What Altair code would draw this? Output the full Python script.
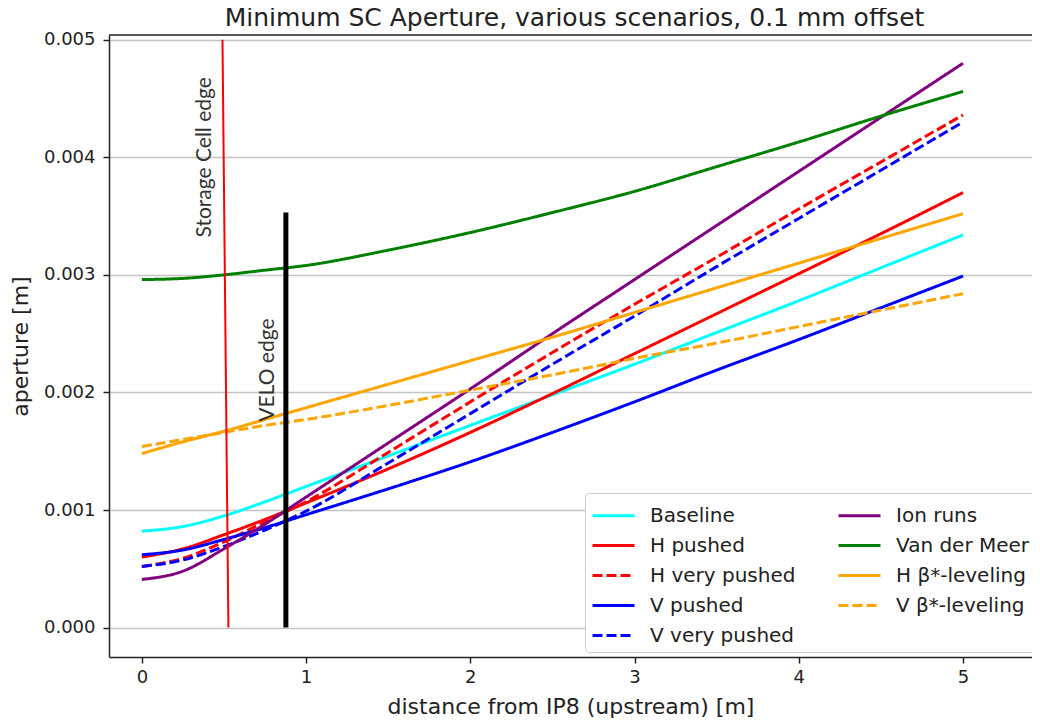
import altair as alt
import pandas as pd

# ---------------- data (aperture values in mm, converted to m below) ----------------
X = [0, 0.25, 0.5, 0.75, 1, 1.5, 2, 2.5, 3, 3.5, 4, 4.5, 5]

baseline      = [0.82, 0.86, 0.95, 1.07, 1.20, 1.46, 1.72, 1.98, 2.24, 2.51, 2.78, 3.06, 3.34]
h_pushed      = [0.60, 0.67, 0.79, 0.92, 1.06, 1.35, 1.66, 1.99, 2.33, 2.67, 3.01, 3.35, 3.70]
h_very_pushed = [0.52, 0.59, 0.73, 0.90, 1.07, 1.49, 1.92, 2.34, 2.75, 3.15, 3.56, 3.96, 4.36]
v_pushed      = [0.62, 0.66, 0.75, 0.85, 0.96, 1.18, 1.41, 1.66, 1.92, 2.19, 2.45, 2.72, 2.99]
v_very_pushed = [0.52, 0.575, 0.69, 0.83, 0.99, 1.40, 1.82, 2.24, 2.65, 3.07, 3.48, 3.89, 4.30]
ion_runs      = [0.41, 0.48, 0.67, 0.88, 1.11, 1.57, 2.03, 2.50, 2.96, 3.42, 3.88, 4.34, 4.80]
van_der_meer  = [2.96, 2.97, 3.00, 3.04, 3.08, 3.21, 3.36, 3.53, 3.71, 3.92, 4.13, 4.35, 4.56]
h_beta_lev    = [1.48, 1.58, 1.67, 1.77, 1.87, 2.07, 2.27, 2.47, 2.68, 2.89, 3.10, 3.31, 3.52]
v_beta_lev    = [1.54, 1.60, 1.66, 1.72, 1.77, 1.89, 2.02, 2.15, 2.29, 2.42, 2.56, 2.70, 2.84]

series_names = ["Baseline", "H pushed", "H very pushed", "V pushed", "V very pushed",
                "Ion runs", "Van der Meer", "H β*-leveling", "V β*-leveling"]
series_values = [baseline, h_pushed, h_very_pushed, v_pushed, v_very_pushed,
                 ion_runs, van_der_meer, h_beta_lev, v_beta_lev]
series_colors = ["#00ffff", "#ff0000", "#ff0000", "#0000ff", "#0000ff",
                 "#800080", "#008000", "#ffa500", "#ffa500"]
series_dashed = [False, False, True, False, True, False, False, False, True]

# edges (vertical markers)
sc_x = [0.491, 0.527]
sc_y = [0.005, 0.0]
velo_x = [0.877, 0.877]
velo_y = [0.00353, 0.0]

annot_text = ["Storage Cell edge", "VELO edge"]
annot_x = [0.386, 0.77]
annot_y = [0.0040, 0.00219]

x_ticks = [0, 1, 2, 3, 4, 5]
y_ticks = [0.0, 0.001, 0.002, 0.003, 0.004, 0.005]

# ---------------- build tables ----------------
rows = []
for name, vals in zip(series_names, series_values):
    for xv, yv in zip(X, vals):
        rows.append({"x": xv, "y": yv * 1e-3, "series": name})
df = pd.DataFrame(rows)

color_range = series_colors
dash_range = [[10, 4] if d else [1, 0] for d in series_dashed]

FONT = "DejaVu Sans"
W, H = 923, 622

x_enc = alt.X("x:Q", scale=alt.Scale(domain=[-0.2, 5.42], nice=False, zero=False),
              axis=alt.Axis(values=x_ticks, format="d", grid=False,
                            title="distance from IP8 (upstream) [m]"))
y_enc = alt.Y("y:Q", scale=alt.Scale(domain=[-0.00025, 0.00504], nice=False, zero=False),
              axis=alt.Axis(values=y_ticks, format=".3f", grid=True, title="aperture [m]"))

legend = alt.Legend(
    title=None, orient="none", legendX=476, legendY=458, columns=2,
    padding=6, fillColor="white", strokeColor="#cccccc", cornerRadius=4,
    labelFont=FONT, labelFontSize=20, labelColor="#222222", labelLimit=400,
    symbolType="M-1,0H1.8", symbolSize=900, symbolStrokeWidth=3,
    labelOffset=26, rowPadding=3, columnPadding=36,
)

base = alt.Chart(df)
layers = []
for name in series_names:
    layers.append(
        base.transform_filter(alt.datum.series == name)
        .mark_line(strokeWidth=3, interpolate="monotone", clip=True)
        .encode(
            x=x_enc, y=y_enc,
            color=alt.Color("series:N", scale=alt.Scale(domain=series_names, range=color_range),
                            legend=legend),
            strokeDash=alt.StrokeDash("series:N", scale=alt.Scale(domain=series_names, range=dash_range),
                                      legend=legend),
        )
    )

sc_line = alt.Chart(pd.DataFrame({"x": sc_x, "y": sc_y})).mark_line(
    color="#ff0000", strokeWidth=2).encode(x=x_enc, y=y_enc)
velo_line = alt.Chart(pd.DataFrame({"x": velo_x, "y": velo_y})).mark_line(
    color="#000000", strokeWidth=5, strokeCap="butt").encode(x=x_enc, y=y_enc)

annots = alt.Chart(pd.DataFrame({"x": annot_x, "y": annot_y, "t": annot_text})).mark_text(
    angle=270, font="Lato", fontSize=21, color="#333333", align="center", baseline="middle"
).encode(x=x_enc, y=y_enc, text="t:N")

top_spine = alt.Chart(pd.DataFrame({"a": [0]})).mark_rule(color="#222222", strokeWidth=1.5).encode(
    x=alt.value(0), x2=alt.value(W), y=alt.value(0))

chart = alt.layer(*layers, sc_line, velo_line, annots, top_spine).properties(
    width=W, height=H,
    title=alt.TitleParams("Minimum SC Aperture, various scenarios, 0.1 mm offset",
                          font=FONT, fontSize=25, fontWeight="normal", color="#222222",
                          offset=0, anchor="middle", dx=4),
    padding={"left": 101, "top": 27, "right": 0, "bottom": 62},
    autosize=alt.AutoSizeParams(type="none"),
).configure_view(stroke=None).configure_axis(
    domainColor="#222222", domainWidth=1.5, tickColor="#222222", tickWidth=1.5, tickSize=6,
    labelFont=FONT, labelFontSize=18, labelColor="#222222", labelPadding=5,
    titleFont=FONT, titleFontSize=22, titleFontWeight="normal", titleColor="#222222",
    gridColor="#c4c4c4", gridWidth=1.3,
).configure_axisY(titlePadding=11, labelPadding=8).configure_axisX(titlePadding=10)

chart.save("out.html", embed_options={"renderer": "svg", "actions": False})
